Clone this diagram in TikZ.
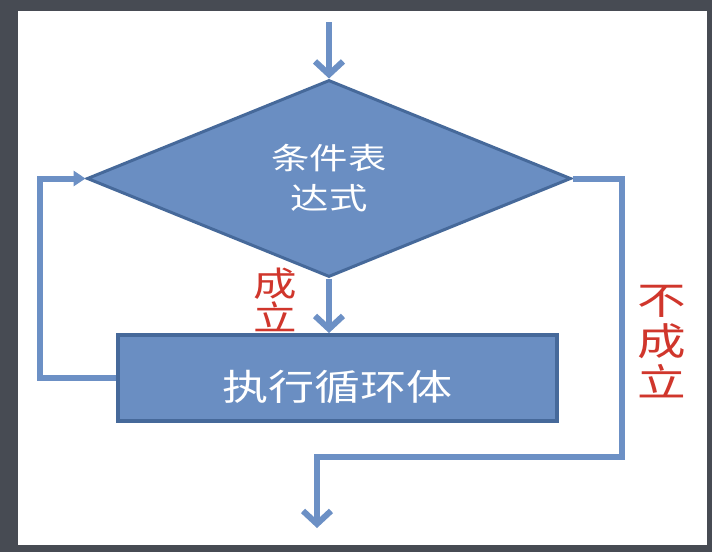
\documentclass[tikz,border=0pt]{standalone}
\usepackage{fontspec}
\usepackage{xcolor}
\usepackage{tikz}
\usetikzlibrary{arrows.meta,shapes.geometric}
\newfontfamily\cnfont[FakeStretch=1.28]{Noto Sans CJK SC}
\definecolor{frame}{HTML}{474B53}
\definecolor{boxfill}{HTML}{6A8EC2}
\definecolor{boxedge}{HTML}{46699A}
\definecolor{wire}{HTML}{6C90C5}
\definecolor{verdict}{HTML}{D0362C}

\begin{document}
\begin{tikzpicture}[
  x=1pt, y=-1pt,
  condbox/.style={diamond, aspect=2.45, draw=boxedge, line width=3pt,
    fill=boxfill, minimum width=484pt, minimum height=197pt,
    inner sep=0pt, align=center, text=white,
    font=\cnfont\fontsize{30}{40}\selectfont},
  bodybox/.style={draw=boxedge, line width=4pt, fill=boxfill,
    minimum width=439pt, minimum height=86pt, text=white,
    text height=49pt, text depth=5pt,
    font=\cnfont\fontsize{36}{40}\selectfont},
  verdictlabel/.style={text=verdict, align=center, inner sep=0pt},
  flowline/.style={draw=wire, line width=6pt,
    -{Straight Barb[length=13pt, width=28pt]}},
  backline/.style={draw=wire, line width=6pt,
    -{Triangle[length=12pt, width=15pt]}},
]
  % page
  \fill[frame] (0,0) rectangle (712,552);
  \fill[white] (18,11) rectangle (707,545);

  % nodes
  \coordinate (entry) at (329,22);
  \node[condbox] (cond) at (329,178.5) {条件表\\达式};
  \node[bodybox] (body) at (337.5,378) {执行循环体};
  \coordinate (exit) at (317,528);

  \node[verdictlabel, font=\cnfont\fontsize{34}{34}\selectfont]
    (yes) at (275,300) {成\\立};
  \node[verdictlabel, font=\cnfont\fontsize{38}{41}\selectfont]
    (no) at (662,342) {不\\成\\立};

  % connectors
  \draw[flowline] (entry) -- (cond.north);
  \draw[flowline] (cond.south) -- (cond.south |- body.north);
  \draw[backline] (body.west) -- ++(-76,0) |- (cond.west);
  \draw[flowline] (cond.east) -| (622,457) -| (exit);
\end{tikzpicture}
\end{document}
